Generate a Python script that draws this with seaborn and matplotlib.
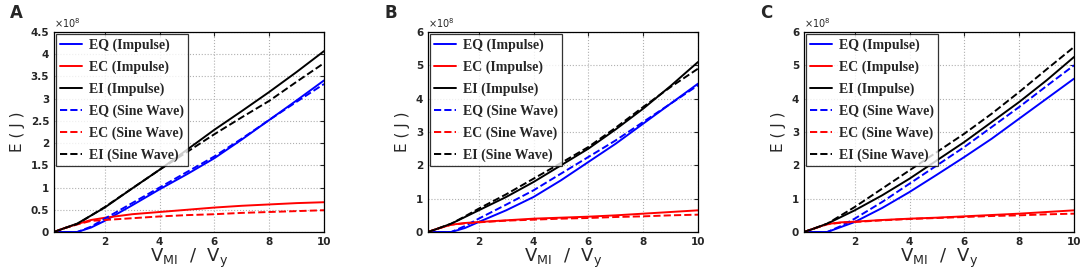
import numpy as np
import pandas as pd
import matplotlib
matplotlib.use("Agg")
import matplotlib.pyplot as plt
from matplotlib.ticker import FuncFormatter
import seaborn as sns

sns.set_style("white")
plt.rcParams["mathtext.default"] = "regular"

# x values (V_MI / V_y) at which curves are read
vx = [0.15, 0.5, 1.0, 1.5, 2.0, 3.0, 4.0, 5.0, 6.0, 7.0, 8.0, 9.0, 10.0]

# Panel A (values in 1e8 J)
a_eq_imp = [0, 0, 0, 0.1, 0.25, 0.6, 0.96, 1.3, 1.66, 2.08, 2.52, 2.96, 3.41]
a_ec_imp = [0, 0.08, 0.18, 0.27, 0.32, 0.4, 0.45, 0.5, 0.55, 0.59, 0.62, 0.65, 0.67]
a_ei_imp = [0, 0.08, 0.19, 0.37, 0.55, 0.98, 1.4, 1.85, 2.3, 2.72, 3.15, 3.6, 4.07]
a_eq_sin = [0, 0, 0, 0.12, 0.3, 0.65, 1.0, 1.35, 1.7, 2.1, 2.52, 2.93, 3.33]
a_ec_sin = [0, 0.08, 0.17, 0.25, 0.27, 0.31, 0.35, 0.38, 0.4, 0.43, 0.45, 0.47, 0.49]
a_ei_sin = [0, 0.08, 0.18, 0.37, 0.56, 0.98, 1.4, 1.8, 2.2, 2.58, 2.95, 3.38, 3.8]

# Panel B
b_eq_imp = [0, 0, 0, 0.12, 0.3, 0.65, 1.05, 1.55, 2.1, 2.65, 3.25, 3.85, 4.45]
b_ec_imp = [0, 0.1, 0.22, 0.27, 0.3, 0.35, 0.4, 0.43, 0.46, 0.5, 0.55, 0.6, 0.65]
b_ei_imp = [0, 0.1, 0.25, 0.45, 0.65, 1.05, 1.5, 2.0, 2.5, 3.08, 3.7, 4.38, 5.1]
b_eq_sin = [0, 0, 0, 0.18, 0.4, 0.82, 1.25, 1.75, 2.25, 2.75, 3.3, 3.85, 4.4]
b_ec_sin = [0, 0.1, 0.22, 0.26, 0.29, 0.34, 0.37, 0.4, 0.42, 0.45, 0.47, 0.5, 0.52]
b_ei_sin = [0, 0.1, 0.25, 0.47, 0.7, 1.13, 1.6, 2.07, 2.55, 3.13, 3.75, 4.35, 4.9]

# Panel C
c_eq_imp = [0, 0, 0, 0.15, 0.3, 0.72, 1.2, 1.72, 2.25, 2.8, 3.4, 4.0, 4.6]
c_ec_imp = [0, 0.1, 0.24, 0.29, 0.31, 0.36, 0.4, 0.43, 0.47, 0.51, 0.55, 0.6, 0.65]
c_ei_imp = [0, 0.1, 0.25, 0.45, 0.65, 1.1, 1.6, 2.15, 2.7, 3.3, 3.9, 4.55, 5.25]
c_eq_sin = [0, 0, 0, 0.18, 0.4, 0.9, 1.45, 2.0, 2.55, 3.15, 3.75, 4.38, 5.0]
c_ec_sin = [0, 0.1, 0.23, 0.28, 0.3, 0.35, 0.39, 0.42, 0.45, 0.48, 0.5, 0.53, 0.55]
c_ei_sin = [0, 0.1, 0.25, 0.5, 0.75, 1.3, 1.85, 2.4, 2.95, 3.55, 4.2, 4.88, 5.55]

labels = ["EQ (Impulse)", "EC (Impulse)", "EI (Impulse)",
          "EQ (Sine Wave)", "EC (Sine Wave)", "EI (Sine Wave)"]
colors = ["#0000ff", "#ff0000", "#000000"] * 2
styles = ["-", "-", "-", "--", "--", "--"]

panels = [
    ("A", [a_eq_imp, a_ec_imp, a_ei_imp, a_eq_sin, a_ec_sin, a_ei_sin], 4.5, 0.5),
    ("B", [b_eq_imp, b_ec_imp, b_ei_imp, b_eq_sin, b_ec_sin, b_ei_sin], 6, 1),
    ("C", [c_eq_imp, c_ec_imp, c_ei_imp, c_eq_sin, c_ec_sin, c_ei_sin], 6, 1),
]

fig = plt.figure(figsize=(10.84, 2.78), dpi=100)
W, H = 1084, 278
lefts = [54, 428, 804]
for (letter, series, ymax, ystep), left in zip(panels, lefts):
    ax = fig.add_axes([left / W, 1 - 232 / H, 270 / W, 200 / H])
    for vals, lab, col, ls in zip(series, labels, colors, styles):
        df = pd.DataFrame({"x": vx, "y": np.array(vals) * 1e8})
        sns.lineplot(data=df, x="x", y="y", color=col, linestyle=ls,
                     linewidth=1.4, label=lab, ax=ax)
    ax.set_xlim(0.15, 10)
    ax.set_ylim(0, ymax * 1e8)
    ax.set_xticks([2, 4, 6, 8, 10])
    ax.set_yticks(np.arange(0, ymax + ystep / 2, ystep) * 1e8)
    ax.yaxis.set_major_formatter(FuncFormatter(lambda v, p: "%g" % (v / 1e8)))
    ax.text(0.0, 1.01, r"$\times10^{8}$", transform=ax.transAxes,
            fontsize=7, ha="left", va="bottom")
    ax.tick_params(labelsize=7.5, direction="in", length=3, top=True, right=True)
    for t in ax.get_xticklabels() + ax.get_yticklabels():
        t.set_fontweight("bold")
    ax.grid(True, linestyle=":", color="#b0b0b0", linewidth=0.8)
    for sp in ax.spines.values():
        sp.set_color("black")
        sp.set_linewidth(0.9)
    ax.set_xlabel(r"V$_{MI}$  /  V$_{y}$", fontsize=13, labelpad=0)
    ax.set_ylabel("E ( J )", fontsize=11, labelpad=4)
    leg = ax.legend(loc="upper left",
                    prop={"family": "Liberation Serif", "size": 10, "weight": "bold"},
                    frameon=True, fancybox=False, edgecolor="black",
                    handlelength=1.6, handletextpad=0.45, labelspacing=0.62,
                    borderpad=0.3, borderaxespad=0.15)
    leg.get_frame().set_linewidth(0.9)
    fig.text((left - 44) / W, 1 - 13 / H, letter, fontsize=12, fontweight="bold",
             va="center", ha="left")

fig.savefig("out.png", dpi=100)
